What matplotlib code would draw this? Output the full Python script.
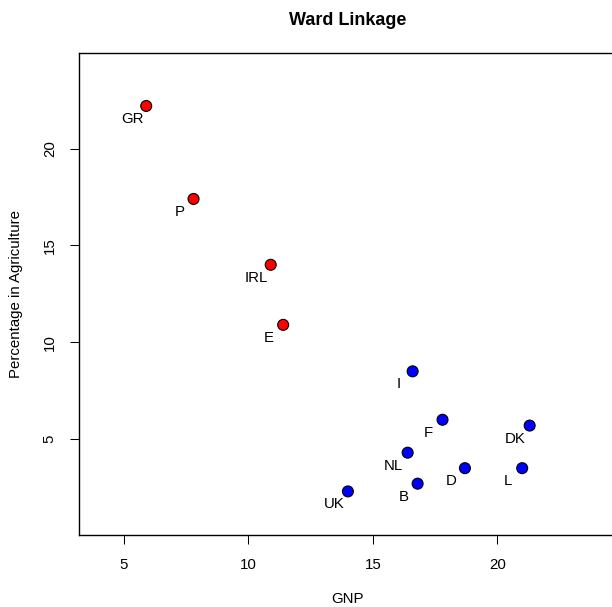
import matplotlib
matplotlib.use("Agg")
import matplotlib.pyplot as plt

plt.rcParams["font.family"] = ["Liberation Sans", "DejaVu Sans"]

# agriculture data: GNP per head vs percentage in agriculture
countries = ["B", "DK", "D", "GR", "E", "F", "IRL", "I", "L", "NL", "P", "UK"]
gnp = [16.8, 21.3, 18.7, 5.9, 11.4, 17.8, 10.9, 16.6, 21.0, 16.4, 7.8, 14.0]
agri = [2.7, 5.7, 3.5, 22.2, 10.9, 6.0, 14.0, 8.5, 3.5, 4.3, 17.4, 2.3]
cluster = [2, 2, 2, 1, 1, 2, 1, 2, 2, 2, 1, 2]
cluster_colors = {1: "red", 2: "blue"}

x_ticks = [5, 10, 15, 20]
y_ticks = [5, 10, 15, 20]

W, H = 612, 607
fs = 10.8

fig = plt.figure(figsize=(W / 100, H / 100), dpi=100)
left, right, top, bottom = 79, 616.8, 52.7, 535
ax = fig.add_axes([left / W, 1 - bottom / H, (right - left) / W, (bottom - top) / H])

cols = [cluster_colors[c] for c in cluster]
ax.scatter(gnp, agri, s=62, c=cols, edgecolors="black", linewidths=0.8, zorder=3)

for name, x, y in zip(countries, gnp, agri):
    ax.annotate(name, (x, y), xytext=(-14, -17), textcoords="offset pixels",
                ha="center", va="baseline", fontsize=fs)

ax.set_xlim(3.2, 24.8)
ax.set_ylim(0.05, 24.95)
ax.set_xticks(x_ticks)
ax.set_yticks(y_ticks)
ax.tick_params(direction="out", length=6.5, width=0.75, labelsize=fs)
ax.tick_params(axis="x", pad=10)
ax.tick_params(axis="y", pad=9.5, labelrotation=90)
for lab in ax.get_yticklabels():
    lab.set_va("center")
for sp in ax.spines.values():
    sp.set_linewidth(1.0)

cx = (left + right) / 2 / W
fig.text(cx, 1 - 25 / H, "Ward Linkage", ha="center", va="baseline",
         fontsize=13, fontweight="bold")
fig.text(cx, 1 - 603 / H, "GNP", ha="center", va="baseline", fontsize=fs)
fig.text(20 / W, 1 - (bottom + top) / 2 / H, "Percentage in Agriculture",
         rotation=90, ha="center", va="baseline", fontsize=fs,
         rotation_mode="anchor")

fig.savefig("out.png", dpi=100)
